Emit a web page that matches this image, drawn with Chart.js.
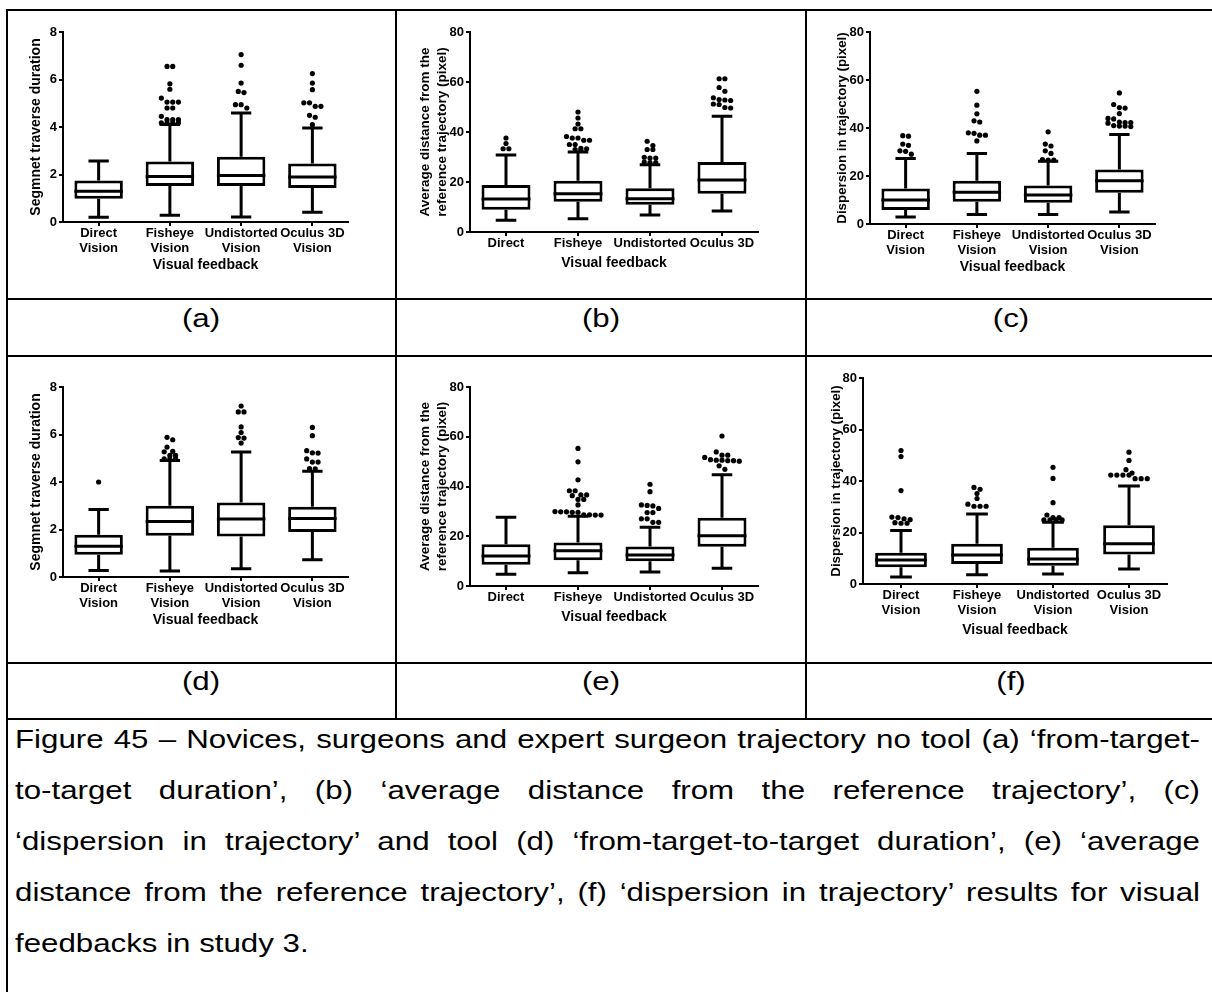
<!DOCTYPE html>
<html>
<head>
<meta charset="utf-8">
<script src="https://cdn.jsdelivr.net/npm/chart.js@4.4.1/dist/chart.umd.min.js"></script>
<style>
  body { margin: 0; background: #fff; }
  #page { position: relative; width: 1212px; height: 992px; overflow: hidden; font-family: 'Liberation Sans', Arial, sans-serif; color: #000; }
  .hl { position: absolute; height: 2px; background: #000; }
  .vl { position: absolute; width: 2px; background: #000; }
  canvas { position: absolute; }
  .tag { position: absolute; width: 100px; font-size: 25px; line-height: 25px; text-align: center; transform: scaleX(1.25); }
  .cap { position: absolute; left: 15px; width: 948px; font-size: 25px; line-height: 25px; text-align: justify; text-align-last: justify; transform: scaleX(1.25); transform-origin: 0 0; }
  .cap.last { text-align-last: left; }
</style>
</head>
<body>
<div id="page">
  <div class="hl" style="left:6px;top:9px;width:1206px"></div>
  <div class="hl" style="left:6px;top:298px;width:1206px"></div>
  <div class="hl" style="left:6px;top:355px;width:1206px"></div>
  <div class="hl" style="left:6px;top:662px;width:1206px"></div>
  <div class="hl" style="left:6px;top:718px;width:1206px"></div>
  <div class="vl" style="left:6px;top:9px;height:983px"></div>
  <div class="vl" style="left:395px;top:9px;height:711px"></div>
  <div class="vl" style="left:805px;top:9px;height:711px"></div>

  <canvas id="chartA" width="387" height="287" style="left:8px;top:11px"></canvas>
  <canvas id="chartB" width="408" height="287" style="left:397px;top:11px"></canvas>
  <canvas id="chartC" width="405" height="287" style="left:807px;top:11px"></canvas>
  <canvas id="chartD" width="387" height="305" style="left:8px;top:357px"></canvas>
  <canvas id="chartE" width="408" height="305" style="left:397px;top:357px"></canvas>
  <canvas id="chartF" width="405" height="305" style="left:807px;top:357px"></canvas>

  <div class="tag" style="left:151px;top:306px">(a)</div>
  <div class="tag" style="left:551px;top:306px">(b)</div>
  <div class="tag" style="left:961px;top:306px">(c)</div>
  <div class="tag" style="left:151px;top:669px">(d)</div>
  <div class="tag" style="left:551px;top:669px">(e)</div>
  <div class="tag" style="left:961px;top:669px">(f)</div>

  <div class="cap" style="top:727px">Figure 45 – Novices, surgeons and expert surgeon trajectory no tool (a) ‘from-target-</div>
  <div class="cap" style="top:778px">to-target duration’, (b) ‘average distance from the reference trajectory’, (c)</div>
  <div class="cap" style="top:829px">‘dispersion in trajectory’ and tool (d) ‘from-target-to-target duration’, (e) ‘average</div>
  <div class="cap" style="top:880px">distance from the reference trajectory’, (f) ‘dispersion in trajectory’ results for visual</div>
  <div class="cap last" style="top:931px">feedbacks in study 3.</div>
</div>
<script>
// categories
const feedbackTwoLine = [['Direct', 'Vision'], ['Fisheye', 'Vision'], ['Undistorted', 'Vision'], ['Oculus 3D', 'Vision']];
const feedbackOneLine = ['Direct', 'Fisheye', 'Undistorted', 'Oculus 3D'];

// (a) no tool - segment traverse duration
const aLow = [0.2, 0.28, 0.21, 0.41];
const aQ1 = [0.98, 1.52, 1.52, 1.43];
const aMed = [1.29, 1.92, 1.96, 1.89];
const aQ3 = [1.75, 2.55, 2.75, 2.46];
const aHigh = [2.57, 4.11, 4.59, 3.96];
const aOut = [
    [],
    [6.55, 6.55, 5.82, 5.59, 5.22, 5.05, 5.05, 5.05, 4.8, 4.8, 4.45, 4.31, 4.31, 4.31, 4.18, 4.18, 4.18, 4.18],
    [7.05, 6.6, 5.85, 5.5, 5.45, 4.94, 4.94, 4.8],
    [6.25, 5.85, 5.57, 5.02, 5.02, 4.87, 4.87, 4.49, 4.41, 4.1]
];

// (b) no tool - average distance
const bLow = [4.7, 5.3, 6.8, 8.4];
const bQ1 = [8.9, 12.1, 10.9, 15.3];
const bMed = [13.2, 15.3, 13.3, 20.8];
const bQ3 = [18.8, 20.5, 17.5, 28];
const bHigh = [30.8, 32, 26.9, 46.3];
const bOut = [
    [37.6, 35.4, 33.3, 33.3],
    [48, 45.6, 43.2, 41.3, 41.3, 38.2, 37.6, 37.6, 36.7, 36.7, 35, 35, 33.5, 33.3, 33, 32.6],
    [36.3, 34.6, 33, 33, 29.9, 29.6, 29.6, 28, 27.8, 27.8],
    [61.3, 61.3, 57.8, 56.3, 53.7, 53, 52.8, 52.6, 51.2, 51, 49.8, 49.6]
];

// (c) no tool - dispersion
const cLow = [2.9, 4, 4, 5];
const cQ1 = [5.8, 9.3, 8.9, 13];
const cMed = [10, 13.2, 12.1, 18];
const cQ3 = [14.8, 18, 16, 22.7];
const cHigh = [27.3, 29.4, 26.1, 37.3];
const cOut = [
    [36.8, 36.6, 33.3, 32.8, 30.5, 30.3, 29.1],
    [55.3, 49.5, 45.9, 43, 42.5, 38, 37.8, 37, 37, 34.6],
    [38.4, 33.3, 32.5, 30.5, 29.4, 26.8, 26.6, 26.6],
    [54.6, 49.8, 48.5, 48.3, 46, 44, 43.8, 42.5, 42.3, 42.3, 42, 41, 40.8, 40.8, 40.6]
];

// (d) tool - segment traverse duration
const dLow = [0.27, 0.25, 0.35, 0.73];
const dQ1 = [0.94, 1.74, 1.71, 1.89];
const dMed = [1.29, 2.34, 2.44, 2.46];
const dQ3 = [1.78, 3.0, 3.14, 2.96];
const dHigh = [2.84, 4.91, 5.26, 4.45];
const dOut = [
    [4.0],
    [5.88, 5.78, 5.47, 5.29, 5.27, 5.12, 5.12, 4.98, 4.98, 4.98],
    [7.2, 6.95, 6.95, 6.32, 6.08, 5.87, 5.85, 5.64],
    [6.3, 5.95, 5.32, 5.23, 5.22, 4.97, 4.84, 4.84, 4.56, 4.55]
];

// (e) tool - average distance
const eLow = [4.7, 5.3, 5.6, 7.1];
const eQ1 = [8.5, 10.4, 9.9, 15.8];
const eMed = [12.1, 14.2, 12.5, 20.2];
const eQ3 = [16.8, 17.5, 15.9, 27.4];
const eHigh = [27.6, 28, 23.6, 44.7];
const eOut = [
    [],
    [55.3, 49.9, 42.7, 38.3, 38.3, 36.6, 36.6, 36.3, 34.8, 34.8, 32.6, 29.9, 29.8, 29.8, 29.6, 29.6, 28.6, 28.6, 28.5, 28.5],
    [40.9, 37.9, 32.6, 32.4, 32.2, 31.2, 29.5, 29.5, 27, 27, 25.6, 25.6],
    [60.3, 53.9, 52.6, 52.6, 51.7, 50.8, 50.6, 50.6, 50.4, 50.4, 50.2, 48.3, 46.9]
];

// (f) tool - dispersion
const fLow = [2.7, 3.6, 3.9, 5.8];
const fQ1 = [6.5, 7.8, 7.1, 11.5];
const fMed = [9.3, 11.3, 9.7, 15.6];
const fQ3 = [12.1, 15.6, 14.1, 22.8];
const fHigh = [20.8, 27.2, 24, 38.1];
const fOut = [
    [51.8, 49.5, 36.3, 26, 25.8, 25.3, 25, 23.8, 23.6, 23.6],
    [37.5, 36.8, 35.1, 33.2, 31, 30.2, 30.2, 30.2],
    [45.3, 41, 31.6, 26.8, 25.8, 25.8, 24.9, 24.9, 24.9, 24.9],
    [51.2, 48, 44.4, 43.1, 42.3, 42.3, 42.3, 42.3, 40.9, 40.9, 40.9]
];

const durationTicks = { max: 8, step: 2 };
const pixelTicks = { max: 80, step: 20 };

Chart.defaults.font.family = "'Liberation Sans', Arial, sans-serif";
Chart.defaults.color = '#000';

// outliers sitting at nearly the same height are spread side by side, like Prism does
function spreadOutliers(outliers, tol) {
    const pts = [];
    outliers.forEach((vals, cat) => {
        const sorted = [...vals].sort((p, q) => q - p);
        let i = 0;
        while (i < sorted.length) {
            let j = i;
            while (j + 1 < sorted.length && sorted[i] - sorted[j + 1] < tol) j++;
            const n = j - i + 1;
            for (let k = 0; k < n; k++) {
                pts.push({ x: cat + (k - (n - 1) / 2) * 0.08, y: sorted[i + k] });
            }
            i = j + 1;
        }
    });
    return pts;
}

const whiskerPlugin = {
    id: 'whiskers',
    afterDatasetsDraw(chart) {
        const ctx = chart.ctx;
        const y = chart.scales.y;
        const ds = chart.data.datasets[0];
        const meta = chart.getDatasetMeta(0);
        ctx.save();
        ctx.strokeStyle = '#000';
        ctx.lineWidth = 3;
        meta.data.forEach((bar, i) => {
            const half = bar.width / 2;
            const cap = bar.width * 0.21;
            const yMed = y.getPixelForValue(ds.medians[i]);
            const yQ1 = y.getPixelForValue(ds.data[i][0]);
            const yQ3 = y.getPixelForValue(ds.data[i][1]);
            const yHi = y.getPixelForValue(ds.highs[i]);
            const yLo = y.getPixelForValue(ds.lows[i]);
            ctx.beginPath();
            ctx.moveTo(bar.x - half, yMed); ctx.lineTo(bar.x + half, yMed);
            ctx.moveTo(bar.x, yQ3); ctx.lineTo(bar.x, yHi);
            ctx.moveTo(bar.x - cap, yHi); ctx.lineTo(bar.x + cap, yHi);
            ctx.moveTo(bar.x, yQ1); ctx.lineTo(bar.x, yLo);
            ctx.moveTo(bar.x - cap, yLo); ctx.lineTo(bar.x + cap, yLo);
            ctx.stroke();
        });
        ctx.restore();
    }
};

function buildPanel(id, geo, labels, low, q1, med, q3, high, outliers, range, yTitle, titleSize) {
    const canvas = document.getElementById(id);
    const cx = parseFloat(canvas.style.left), cy = parseFloat(canvas.style.top);
    const cw = canvas.width, ch = canvas.height;
    const titleLh = titleSize * 1.25;
    const vfLh = 16;
    const padLeft = geo.tx - cx - titleLh / 2;

    new Chart(canvas, {
        type: 'bar',
        data: {
            labels: labels,
            datasets: [
                {
                    data: q1.map((v, i) => [v, q3[i]]),
                    medians: med,
                    lows: low,
                    highs: high,
                    grouped: false,
                    backgroundColor: '#fff',
                    borderColor: '#000',
                    borderWidth: 3,
                    borderSkipped: false,
                    barPercentage: 0.68,
                    categoryPercentage: 1
                },
                {
                    type: 'scatter',
                    xAxisID: 'x2',
                    data: spreadOutliers(outliers, range.max * 0.0225),
                    pointRadius: 2.6,
                    pointBackgroundColor: '#000',
                    pointBorderWidth: 0
                }
            ]
        },
        options: {
            responsive: false,
            animation: false,
            events: [],
            layout: {
                padding: { left: padLeft, top: geo.T - cy, right: cx + cw - geo.R, bottom: 0 }
            },
            plugins: { legend: { display: false }, tooltip: { enabled: false } },
            scales: {
                x: {
                    offset: true,
                    grid: { offset: false, drawOnChartArea: false, drawTicks: true, tickLength: 4, color: '#000', lineWidth: 2 },
                    border: { color: '#000', width: 2 },
                    ticks: { padding: 0, maxRotation: 0, autoSkip: false, font: { size: 13, weight: 'bold', lineHeight: 1.15 } },
                    title: {
                        display: true, text: 'Visual feedback',
                        font: { size: 14, weight: 'bold', lineHeight: vfLh / 14 },
                        padding: { top: 0, bottom: cy + ch - geo.vf - vfLh / 2 }
                    },
                    afterFit: (scale) => { scale.height = cy + ch - geo.B; }
                },
                x2: { type: 'linear', display: false, offset: false, bounds: 'data', min: -0.5, max: 3.5 },
                y: {
                    min: 0, max: range.max,
                    grid: { drawOnChartArea: false, drawTicks: true, tickLength: 4, color: '#000', lineWidth: 2 },
                    border: { color: '#000', width: 2 },
                    ticks: { stepSize: range.step, padding: 2, font: { size: 13, weight: 'bold' } },
                    title: {
                        display: true, text: yTitle,
                        font: { size: titleSize, weight: 'bold', lineHeight: 1.25 },
                        padding: { top: 0, bottom: 0 }
                    },
                    afterFit: (scale) => { scale.width = geo.L - cx - padLeft; }
                }
            }
        },
        plugins: [whiskerPlugin]
    });
}

const distanceTitle = ['Average distance from the', 'reference trajectory (pixel)'];

buildPanel('chartA', { L: 63, R: 348, T: 32, B: 222, tx: 36, vf: 265 }, feedbackTwoLine,
    aLow, aQ1, aMed, aQ3, aHigh, aOut, durationTicks, 'Segmnet traverse duration', 14);
buildPanel('chartB', { L: 470, R: 758, T: 32, B: 232, tx: 425, vf: 263 }, feedbackOneLine,
    bLow, bQ1, bMed, bQ3, bHigh, bOut, pixelTicks, distanceTitle, 13.5);
buildPanel('chartC', { L: 870, R: 1155, T: 32, B: 224, tx: 842, vf: 267 }, feedbackTwoLine,
    cLow, cQ1, cMed, cQ3, cHigh, cOut, pixelTicks, 'Dispersion in trajectory (pixel)', 13.3);
buildPanel('chartD', { L: 63, R: 348, T: 387, B: 577, tx: 36, vf: 620 }, feedbackTwoLine,
    dLow, dQ1, dMed, dQ3, dHigh, dOut, durationTicks, 'Segmnet traverse duration', 14);
buildPanel('chartE', { L: 470, R: 758, T: 387, B: 586, tx: 425, vf: 617 }, feedbackOneLine,
    eLow, eQ1, eMed, eQ3, eHigh, eOut, pixelTicks, distanceTitle, 13.5);
buildPanel('chartF', { L: 863, R: 1167, T: 378, B: 584, tx: 836, vf: 630 }, feedbackTwoLine,
    fLow, fQ1, fMed, fQ3, fHigh, fOut, pixelTicks, 'Dispersion in trajectory (pixel)', 13.3);
</script>
</body>
</html>
